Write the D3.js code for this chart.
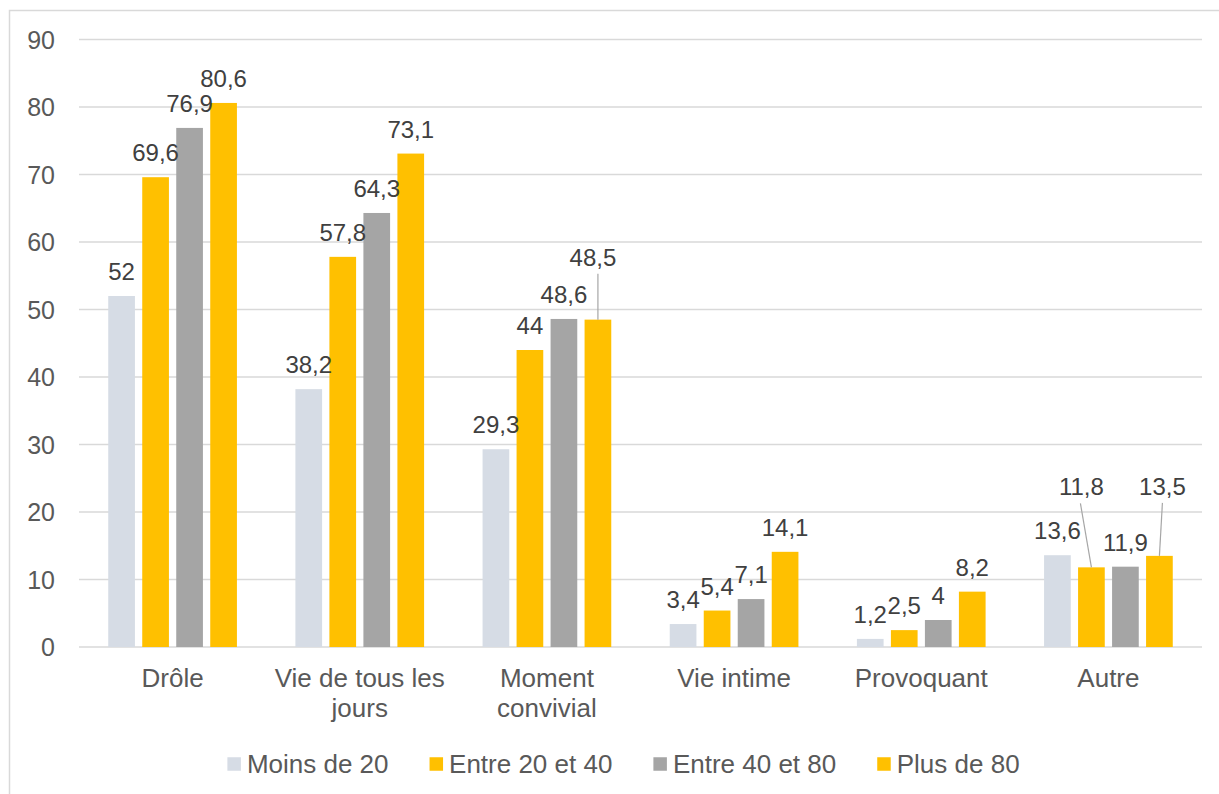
<!DOCTYPE html>
<html>
<head>
<meta charset="utf-8">
<script src="https://cdn.jsdelivr.net/npm/d3@7"></script>
<style>
  body { margin: 0; background: #fff; }
  svg { display: block; font-family: "Liberation Sans", Arial, sans-serif; }
</style>
</head>
<body>
<div id="chart"></div>
<script>
var width = 1219,
    height = 794

// data
var categories = ["Drôle", "Vie de tous les jours", "Moment convivial", "Vie intime", "Provoquant", "Autre"]
var series = ["Moins de 20", "Entre 20 et 40", "Entre 40 et 80", "Plus de 80"]
var moins20 = [52, 38.2, 29.3, 3.4, 1.2, 13.6]
var entre20_40 = [69.6, 57.8, 44, 5.4, 2.5, 11.8]
var entre40_80 = [76.9, 64.3, 48.6, 7.1, 4, 11.9]
var plus80 = [80.6, 73.1, 48.5, 14.1, 8.2, 13.5]
var yTicks = [0, 10, 20, 30, 40, 50, 60, 70, 80, 90]

var values = [moins20, entre20_40, entre40_80, plus80]
var colors = ["#d6dce5", "#ffc000", "#a5a5a5", "#ffc000"]

// labels that excel pulled away from their bar (dx, dy, line x offset)
var labelMoves = {
  "Moment convivial|Plus de 80": [-5, -38, 5],
  "Autre|Entre 20 et 40": [-10, -56, -1],
  "Autre|Plus de 80": [3, -45, 0]
}

var svg = d3.select("#chart")
  .append("svg")
    .attr("width", width)
    .attr("height", height)

// outer frame (runs off the right and bottom)
svg.append("rect")
  .attr("x", 9.5).attr("y", 10.5)
  .attr("width", 1400).attr("height", 1000)
  .attr("fill", "none")
  .attr("stroke", "#d9d9d9")
  .attr("stroke-width", 1.5)

var plotLeft = 79, plotRight = 1202, plotTop = 39.5, plotBottom = 647

var y = d3.scaleLinear().domain([0, 90]).range([plotBottom, plotTop])
var x0 = d3.scaleBand().domain(categories).range([plotLeft, plotRight])
var x1 = d3.scaleBand().domain(series).range([0, x0.bandwidth()])
  .paddingInner(0.215).paddingOuter(0.86)

// grid
svg.append("g")
  .selectAll("line")
  .data(yTicks)
  .enter().append("line")
    .attr("x1", plotLeft).attr("x2", plotRight)
    .attr("y1", function(d) { return y(d) }).attr("y2", function(d) { return y(d) })
    .attr("stroke", "#d9d9d9")
    .attr("stroke-width", 1.4)

// y tick labels
svg.append("g")
  .selectAll("text")
  .data(yTicks)
  .enter().append("text")
    .attr("x", 55)
    .attr("y", function(d) { return y(d) })
    .attr("dy", "0.36em")
    .attr("text-anchor", "end")
    .attr("font-size", 25)
    .attr("fill", "#595959")
    .text(function(d) { return d })

// flatten for bars
var rows = []
categories.forEach(function(c, i) {
  series.forEach(function(s, j) {
    rows.push({cat: c, ser: s, idx: j, value: values[j][i]})
  })
})

svg.append("g")
  .selectAll("rect")
  .data(rows)
  .enter().append("rect")
    .attr("x", function(d) { return x0(d.cat) + x1(d.ser) })
    .attr("y", function(d) { return y(d.value) })
    .attr("width", x1.bandwidth())
    .attr("height", function(d) { return y(0) - y(d.value) })
    .attr("fill", function(d) { return colors[d.idx] })

// data labels
var fmt = function(v) { return String(v).replace(".", ",") }
var lab = svg.append("g")
rows.forEach(function(d) {
  var cx = x0(d.cat) + x1(d.ser) + x1.bandwidth() / 2
  var barTop = y(d.value)
  var mv = labelMoves[d.cat + "|" + d.ser]
  var lx = cx, ly = barTop - 16
  if (mv) {
    lx = cx + mv[0]
    ly = ly + mv[1]
    lab.append("line")
      .attr("x1", lx + mv[2]).attr("y1", ly + 8)
      .attr("x2", cx).attr("y2", barTop)
      .attr("stroke", "#a6a6a6")
      .attr("stroke-width", 1.2)
  }
  lab.append("text")
    .attr("x", lx).attr("y", ly)
    .attr("text-anchor", "middle")
    .attr("font-size", 24)
    .attr("fill", "#404040")
    .text(fmt(d.value))
})

// category labels, wrapped to the band
var catG = svg.append("g")
categories.forEach(function(c) {
  var cx = x0(c) + x0.bandwidth() / 2
  var t = catG.append("text")
    .attr("x", cx)
    .attr("y", 687)
    .attr("text-anchor", "middle")
    .attr("font-size", 26)
    .attr("fill", "#595959")
  var words = c.split(" "), line = []
  var tspan = t.append("tspan").attr("x", cx).attr("dy", 0)
  words.forEach(function(w) {
    line.push(w)
    tspan.text(line.join(" "))
    if (tspan.node().getComputedTextLength() > x0.bandwidth() - 4 && line.length > 1) {
      line.pop()
      tspan.text(line.join(" "))
      line = [w]
      tspan = t.append("tspan")
        .attr("x", cx)
        .attr("dy", 30)
        .text(w)
    }
  })
})

// legend
var leg = svg.append("g")
var gap = 41
var pos = 0
series.forEach(function(s, i) {
  var g = leg.append("g")
  g.append("rect")
    .attr("x", 0).attr("y", -6.75)
    .attr("width", 13.5).attr("height", 13.5)
    .attr("fill", colors[i])
  var t = g.append("text")
    .attr("x", 19.5).attr("y", 0)
    .attr("dy", "0.36em")
    .attr("font-size", 26)
    .attr("fill", "#595959")
    .text(s)
  var w = 19.5 + t.node().getComputedTextLength()
  g.attr("transform", "translate(" + pos + ",0)")
  pos += w + gap
})
var total = pos - gap
leg.attr("transform", "translate(" + (623.5 - total / 2) + ",764)")
</script>
</body>
</html>
